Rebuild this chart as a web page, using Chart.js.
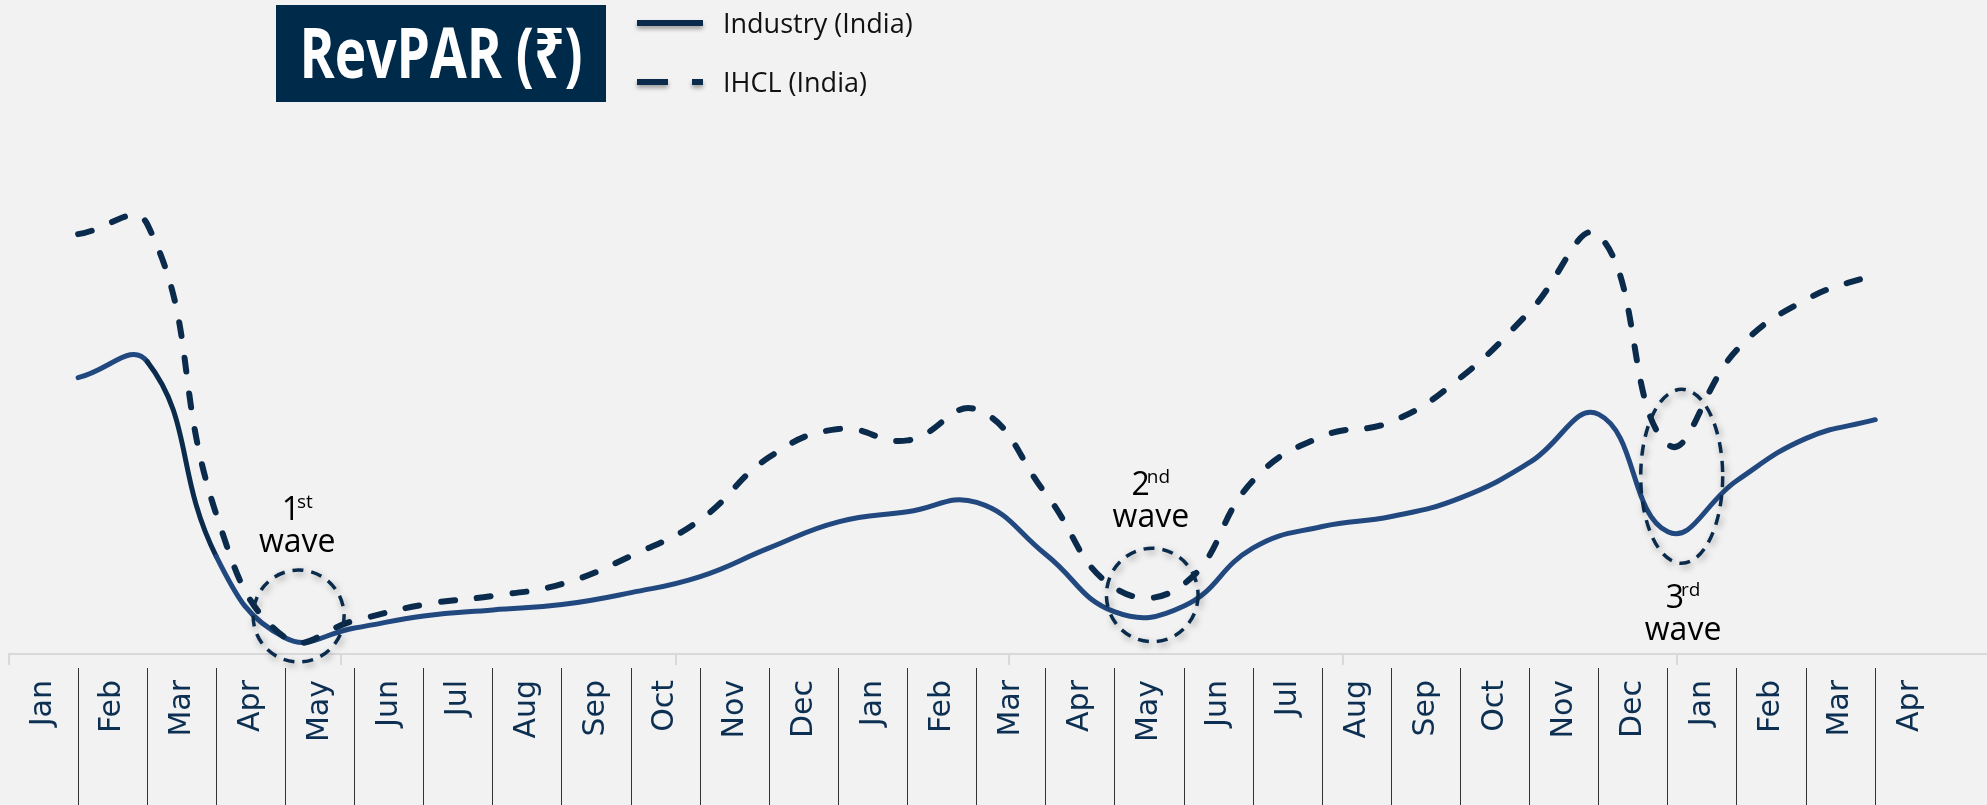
<!DOCTYPE html>
<html>
<head>
<meta charset="utf-8">
<script src="https://cdn.jsdelivr.net/npm/chart.js@4.4.1/dist/chart.umd.min.js"></script>
<style>
  html, body { margin: 0; padding: 0; background: #f2f2f2; overflow: hidden; }
  canvas { display: block; }
</style>
</head>
<body>
<canvas id="c" width="1987" height="805"></canvas>
<script>
// ---------- data ----------
const MONTHS = ['Jan','Feb','Mar','Apr','May','Jun','Jul','Aug','Sep','Oct','Nov','Dec',
                'Jan','Feb','Mar','Apr','May','Jun','Jul','Aug','Sep','Oct','Nov','Dec',
                'Jan','Feb','Mar','Apr'];
// monthly RevPAR (₹), Jan 2020 .. Mar 2022
const INDUSTRY_REVPAR = [4140, 4380, 1460, 240, 390, 570, 660, 740, 920, 1160, 1590, 1980, 2130, 2270,
                         1490, 630, 720, 1590, 1910, 2060, 2340, 2870, 3590, 1830, 2600, 3230, 3510];
const IHCL_REVPAR     = [6290, 6440, 2090, 240, 500, 740, 870, 1050, 1470, 2010, 2950, 3370, 3200, 3660,
                         2400, 990, 1050, 2600, 3260, 3480, 4140, 5130, 6270, 3140, 4560, 5310, 5690];
const SERIES_LABELS = ['Industry (India)', 'IHCL (India)'];
const AXIS_TICKS = [-0.5, 4.3, 9.15, 13.97, 18.8, 23.63];
const WAVE_NOTES = [
  { num: '1', sup: 'st', word: 'wave' },
  { num: '2', sup: 'nd', word: 'wave' },
  { num: '3', sup: 'rd', word: 'wave' }
];
const TITLE = 'RevPAR (₹)';

// ---------- helpers ----------
const toPoints = arr => arr.map((v, i) => ({ x: i + 0.5, y: v }));   // value at month end
const X_MAX = 28.117;
const NAVY = '#0a2b4c';
const BLUE = '#22497f';
const SANS = '"Open Sans", "Noto Sans", sans-serif';

const decor = {
  id: 'decor',
  beforeDraw(chart) {
    const { ctx, width, height } = chart;
    ctx.save();
    ctx.fillStyle = '#f2f2f2';
    ctx.fillRect(0, 0, width, height);
    ctx.restore();
  },
  afterDatasetsDraw(chart, args, opts) {
    const { ctx, scales: { x, y } } = chart;
    opts.marks.forEach((m, i) => {
      const cx = x.getPixelForValue(m.x), cy = y.getPixelForValue(m.y);
      const rx = x.getPixelForValue(m.x + m.rx) - cx;
      const ry = cy - y.getPixelForValue(m.y + m.ry);
      ctx.save();
      ctx.shadowColor = 'rgba(0,0,0,0.35)';
      ctx.shadowBlur = 7; ctx.shadowOffsetX = 2; ctx.shadowOffsetY = 3;
      ctx.strokeStyle = NAVY; ctx.lineWidth = 3.5; ctx.setLineDash([11, 8]);
      ctx.beginPath(); ctx.ellipse(cx, cy, rx, ry, 0, 0, Math.PI * 2); ctx.stroke();
      ctx.restore();

      const note = WAVE_NOTES[i];
      const lx = x.getPixelForValue(m.lx), ly = y.getPixelForValue(m.ly);
      ctx.save();
      ctx.fillStyle = '#000'; ctx.textBaseline = 'alphabetic';
      ctx.font = '32px ' + SANS; const w1 = ctx.measureText(note.num).width;
      ctx.font = '19px ' + SANS; const w2 = ctx.measureText(note.sup).width;
      const kern = -3;
      const sx = lx - (w1 + w2 + kern) / 2;
      ctx.textAlign = 'left';
      ctx.font = '32px ' + SANS; ctx.fillText(note.num, sx, ly);
      ctx.font = '19px ' + SANS; ctx.fillText(note.sup, sx + w1 + kern, ly - 12);
      ctx.textAlign = 'center';
      ctx.font = '32px ' + SANS; ctx.fillText(note.word, lx, ly + 32);
      ctx.restore();
    });
  },
  afterDraw(chart, args, opts) {
    const { ctx } = chart;
    // title box
    const t = opts.title;
    ctx.save();
    ctx.fillStyle = '#002a4a';
    ctx.fillRect(t.left, t.top, t.width, t.height);
    ctx.fillStyle = '#ffffff';
    ctx.font = 'bold 70px ' + SANS;
    ctx.textBaseline = 'alphabetic';
    ctx.textAlign = 'center';
    const mw = ctx.measureText(TITLE).width;
    ctx.translate(t.left + t.width / 2, t.baseline);
    ctx.scale(t.textWidth / mw, 1);
    ctx.fillText(TITLE, 0, 0);
    ctx.restore();

    // legend
    const L = opts.legend;
    chart.data.datasets.forEach((ds, i) => {
      const yy = L.top + i * L.gap;
      ctx.save();
      ctx.shadowColor = 'rgba(0,0,0,0.35)';
      ctx.shadowBlur = 4; ctx.shadowOffsetY = 3;
      ctx.strokeStyle = NAVY; ctx.lineWidth = 6; ctx.lineCap = 'butt';
      ctx.setLineDash(i === 0 ? [] : L.dash);
      ctx.beginPath(); ctx.moveTo(L.x1, yy); ctx.lineTo(L.x2, yy); ctx.stroke();
      ctx.restore();
      ctx.save();
      ctx.fillStyle = '#111';
      ctx.font = L.fontSize + 'px ' + SANS;
      ctx.textBaseline = 'alphabetic';
      ctx.fillText(ds.label, L.textX, yy + L.baselineOffset);
      ctx.restore();
    });
  }
};

new Chart(document.getElementById('c'), {
  type: 'line',
  data: {
    datasets: [
      {
        label: SERIES_LABELS[0],
        data: toPoints(INDUSTRY_REVPAR),
        borderColor: BLUE,
        borderWidth: 5,
        tension: 0.45,
        pointRadius: 0,
        borderCapStyle: 'round',
        borderJoinStyle: 'round',
        order: 1,
        segment: { borderColor: c => c.p0DataIndex === 1 ? NAVY : undefined }
      },
      {
        label: SERIES_LABELS[1],
        data: toPoints(IHCL_REVPAR),
        borderColor: NAVY,
        borderWidth: 6,
        borderDash: [14, 22],
        borderCapStyle: 'round',
        tension: 0.45,
        pointRadius: 0,
        order: 0
      }
    ]
  },
  options: {
    responsive: false,
    devicePixelRatio: 1,
    animation: false,
    events: [],
    clip: false,
    layout: { padding: { top: 120, left: 9, right: 0, bottom: 0 } },
    plugins: {
      legend: { display: false },
      tooltip: { enabled: false },
      decor: {
        title: { left: 276, top: 5, width: 330, height: 97, baseline: 78, textWidth: 283 },
        legend: { x1: 637, x2: 703, top: 23, gap: 59, dash: [31, 24], textX: 723, baselineOffset: 10, fontSize: 27 },
        marks: [
          { x: 3.69, y: 569, rx: 0.658, ry: 689, lx: 3.67, ly: 2007 },
          { x: 16.04, y: 884, rx: 0.663, ry: 700, lx: 16.02, ly: 2382 },
          { x: 23.70, y: 2662, rx: 0.593, ry: 1303, lx: 23.72, ly: 689 }
        ]
      }
    },
    scales: {
      x: {
        type: 'linear', min: -0.5, max: X_MAX, position: 'bottom', weight: 0,
        border: { display: true, color: '#d9d9d9', width: 2 },
        grid: { drawOnChartArea: false, drawTicks: true, tickLength: 11, color: '#d9d9d9', lineWidth: 2 },
        ticks: { display: false },
        afterBuildTicks: ax => { ax.ticks = AXIS_TICKS.map(v => ({ value: v })); },
        afterFit: ax => { ax.height = 14; }
      },
      xLab: {
        type: 'linear', min: -0.5, max: X_MAX, position: 'bottom', weight: 1,
        border: { display: false },
        grid: {
          drawOnChartArea: false, offset: true, tickLength: 137, lineWidth: 1,
          color: c => (c.index === undefined || c.index === 0) ? 'rgba(0,0,0,0)' : '#333333'
        },
        ticks: {
          autoSkip: false, minRotation: 90, maxRotation: 90, padding: -125,
          color: '#0c2f52', font: { family: 'DejaVu Sans', size: 30 },
          callback: (v, i) => MONTHS[i]
        },
        afterBuildTicks: ax => { ax.ticks = MONTHS.map((m, i) => ({ value: i })); },
        afterFit: ax => { ax.height = 137; }
      },
      y: { display: false, min: 0, max: 8000 }
    }
  },
  plugins: [decor]
});
</script>
</body>
</html>
